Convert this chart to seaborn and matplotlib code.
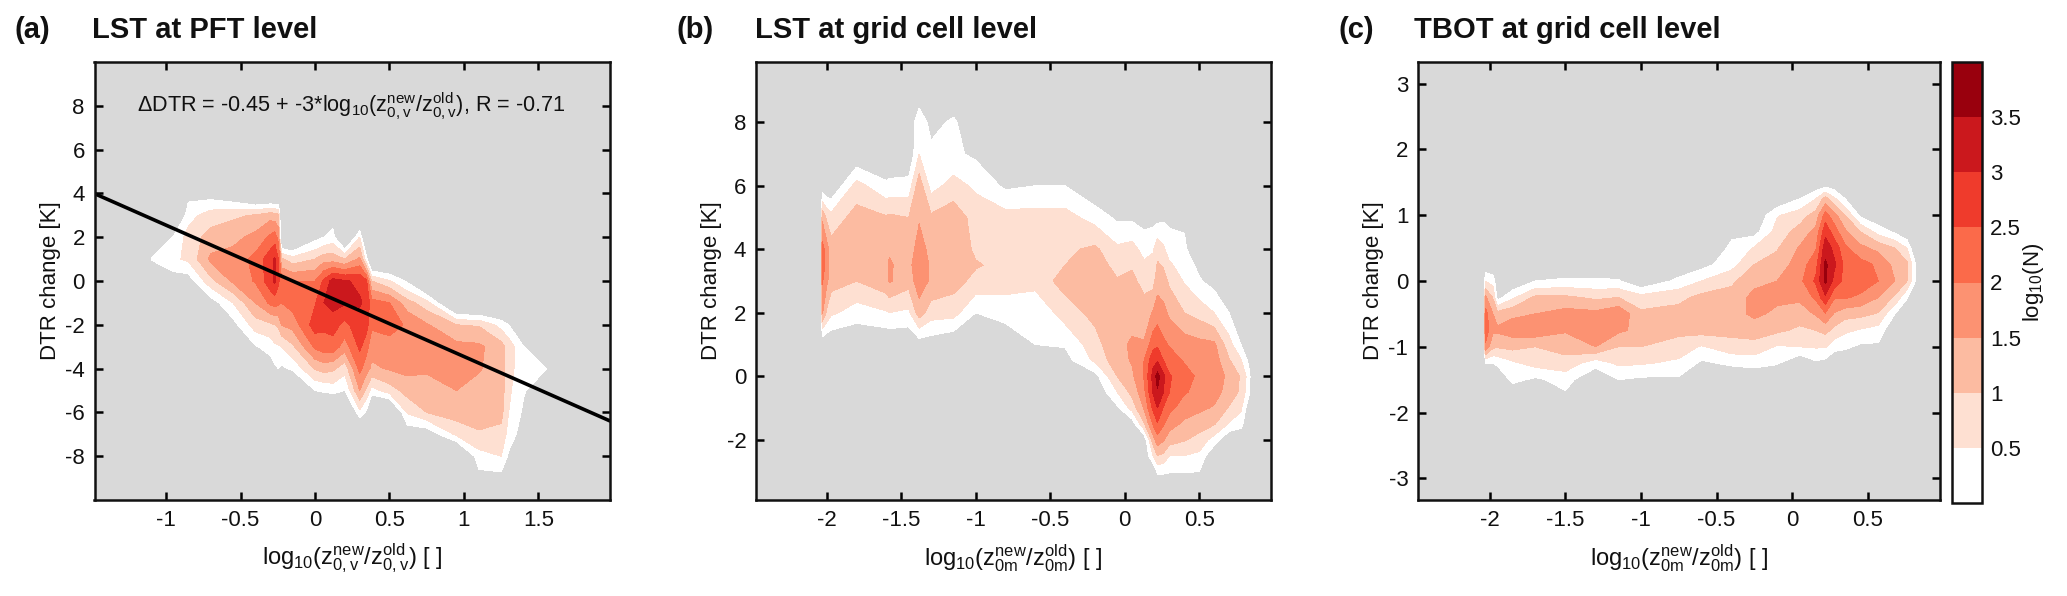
import numpy as np
import matplotlib
matplotlib.use("Agg")
import matplotlib.pyplot as plt
import seaborn as sns

# ── Data: log10(N), E = empty bin ────────────────────────────────────────────
E = -1.2

a_x = [-1.1, -0.95, -0.85, -0.7, -0.55, -0.4, -0.3, -0.27, -0.245, -0.225, -0.15, 0, 0.06, 0.12,
       0.2, 0.3, 0.345, 0.38, 0.5, 0.62, 0.75, 0.95, 1.1, 1.25, 1.3, 1.4, 1.55, 1.7]
a_y = [5, 4, 3, 2, 1, 0, -1, -2, -3, -4, -5, -6, -7, -8, -9, -10]
a_z = [
    [E, E, E, E, .05, E, E, E, E, E, E, E, E, E, E, E],
    [E, E, E, .05, .4, -.3, E, E, E, E, E, E, E, E, E, E],
    [E, -.2, .3, .7, .6, -.3, E, E, E, E, E, E, E, E, E, E],
    [E, -.3, .75, 1.2, 1.6, .85, -.3, E, E, E, E, E, E, E, E, E],
    [E, -.6, .9, 1.35, 1.7, 1.6, .5, -.2, E, E, E, E, E, E, E, E],
    [E, E, 1.05, 1.65, 2.15, 2.05, 1.5, .75, -.05, E, E, E, E, E, E, E],
    [E, E, 1.3, 2.1, 2.8, 2.8, 2.1, .9, .2, -.3, E, E, E, E, E, E],
    [E, E, 1.2, 2.25, 3.05, 3.1, 2.2, 1.0, .4, -.1, E, E, E, E, E, E],
    [E, E, 1.1, 1.8, 2.5, 2.6, 2.1, 1.1, .45, 0, E, E, E, E, E, E],
    [E, E, E, E, 1.1, 2.1, 2.0, 1.5, .5, -.1, E, E, E, E, E, E],
    [E, E, E, E, .7, 2.0, 2.2, 1.7, .9, .1, E, E, E, E, E, E],
    [E, E, E, -.2, 1.0, 2.0, 2.45, 2.75, 2.1, 1.05, 0, E, E, E, E, E],
    [E, E, E, 0, 1.3, 2.6, 3.0, 2.6, 2.3, 1.2, .1, E, E, E, E, E],
    [E, E, -.3, .2, 1.25, 3.2, 3.2, 2.7, 2.3, 1.1, .2, E, E, E, E, E],
    [E, E, E, E, 1.0, 3.05, 3.05, 2.35, 1.75, .7, 0, E, E, E, E, E],
    [E, E, E, .5, 1.6, 2.9, 3.05, 2.8, 2.6, 2.15, 1.5, .35, E, E, E, E],
    [E, E, E, E, .2, 2.6, 2.9, 2.7, 2.2, 1.7, .9, -.1, E, E, E, E],
    [E, E, E, E, E, 1.0, 2.2, 2.1, 1.7, 1.4, .3, E, E, E, E, E],
    [E, E, E, E, E, .55, 2.0, 2.15, 1.85, 1.55, .75, E, E, E, E, E],
    [E, E, E, E, E, -.1, 1.2, 1.95, 1.8, 1.65, 1.2, .55, -.4, E, E, E],
    [E, E, E, E, E, E, .7, 1.55, 1.7, 1.6, 1.2, 1.0, -.4, E, E, E],
    [E, E, E, E, E, E, E, 1.0, 1.65, 1.6, 1.5, 1.25, .6, E, E, E],
    [E, E, E, E, E, E, E, .95, 1.6, 1.55, 1.3, 1.2, .95, .3, -.2, E],
    [E, E, E, E, E, E, E, .3, 1.2, 1.2, 1.25, 1.15, .85, .5, -.2, E],
    [E, E, E, E, E, E, E, 0, .8, .75, .6, .5, .3, -.1, E, E],
    [E, E, E, E, E, E, E, E, .02, .05, .05, -.1, -.3, E, E, E],
    [E, E, E, E, E, E, E, E, E, .02, -.4, E, E, E, E, E],
    [E, E, E, E, E, E, E, E, E, E, E, E, E, E, E, E],
]

E = -0.5

b_x = [-2.04, -2.03, -2.0, -1.97, -1.8, -1.6, -1.58, -1.45, -1.38, -1.3, -1.15, -1, -0.8, -0.6, -0.4,
       -0.2, -0.05, 0.05, 0.13, 0.19, 0.22, 0.26, 0.3, 0.4, 0.5, 0.6, 0.7, 0.78, 0.83, 0.86]
b_y = [9, 8, 7, 6, 5, 4, 3.5, 3, 2, 1, 0.5, 0, -0.5, -1, -1.5, -2, -2.5, -3, -3.5]
b_z = [
    [E, E, E, E, E, E, E, E, E, E, E, E, E, E, E, E, E, E, E],
    [E, E, E, -.4, 1.4, 2.2, 2.3, 2.05, 1.55, E, E, E, E, E, E, E, E, E, E],
    [E, E, E, -.5, .9, 1.7, 1.75, 1.6, .9, E, E, E, E, E, E, E, E, E, E],
    [E, E, E, E, .7, 1.2, 1.25, 1.2, .6, E, E, E, E, E, E, E, E, E, E],
    [E, E, E, .7, 1.2, 1.25, 1.25, 1.0, .25, E, E, E, E, E, E, E, E, E, E],
    [E, E, E, .1, 1.05, 1.4, 1.4, 1.35, .45, E, E, E, E, E, E, E, E, E, E],
    [E, E, E, .15, 1.1, 1.45, 1.55, 1.55, .5, E, E, E, E, E, E, E, E, E, E],
    [E, E, E, .2, 1.0, 1.25, 1.3, 1.2, .4, E, E, E, E, E, E, E, E, E, E],
    [E, .4, .5, 1.3, 1.45, 1.7, 1.95, 1.8, 1.25, -.3, E, E, E, E, E, E, E, E, E],
    [E, -.2, .15, .3, 1.1, 1.35, 1.4, 1.4, .75, -.3, E, E, E, E, E, E, E, E, E],
    [E, .1, .1, .7, 1.3, 1.4, 1.35, 1.2, .7, E, E, E, E, E, E, E, E, E, E],
    [E, E, -.1, .4, .8, .9, 1.05, .85, 0, E, E, E, E, E, E, E, E, E, E],
    [E, E, E, -.1, .7, .9, .85, .8, .1, -.2, E, E, E, E, E, E, E, E, E],
    [E, E, E, 0, .7, .9, 1.0, .7, .05, 0, E, E, E, E, E, E, E, E, E],
    [E, E, E, 0, .7, .9, 1.0, 1.2, .75, .05, -.2, E, E, E, E, E, E, E, E],
    [E, E, E, E, .3, 1.1, 1.3, 1.35, 1.15, .8, .6, -.2, E, E, E, E, E, E, E],
    [E, E, E, E, -.1, .6, .8, 1.05, 1.3, 1.4, 1.3, 1.0, .5, -.1, E, E, E, E, E],
    [E, E, E, E, -.1, .7, .95, 1.1, 1.35, 1.55, 1.55, 1.4, 1.15, .7, -.3, E, E, E, E],
    [E, E, E, E, -.2, .3, .6, .85, 1.2, 1.55, 2.0, 2.05, 1.85, 1.55, .95, -.4, E, E, E],
    [E, E, E, E, -.2, .45, .65, .8, 1.55, 2.3, 2.85, 3.15, 3.05, 2.6, 2.05, 1.25, .5, E, E],
    [E, E, E, E, -.2, .85, 1.05, 1.3, 1.75, 2.4, 2.95, 3.7, 3.45, 3.0, 2.45, 1.8, 1.0, .1, E],
    [E, E, E, E, -.1, .6, .95, 1.2, 1.65, 2.1, 2.5, 3.1, 3.0, 2.45, 2.05, 1.55, .9, .1, E],
    [E, E, E, E, -.1, .2, .6, .9, 1.4, 1.95, 2.25, 2.55, 2.5, 2.15, 1.7, 1.25, .5, .05, E],
    [E, E, E, E, -.1, .1, .2, .45, 1.0, 1.75, 1.95, 2.2, 2.05, 1.75, 1.4, 1.05, .5, .05, E],
    [E, E, E, E, E, E, -.1, .05, .8, 1.65, 1.8, 1.9, 1.85, 1.6, 1.25, .8, .4, 0, E],
    [E, E, E, E, E, E, E, -.2, .5, 1.6, 1.75, 1.85, 1.7, 1.45, 1.05, .3, E, E, E],
    [E, E, E, E, E, E, E, E, 0, .7, 1.05, 1.35, 1.3, .95, .45, E, E, E, E],
    [E, E, E, E, E, E, E, E, E, 0, .55, .95, .9, .6, .2, E, E, E, E],
    [E, E, E, E, E, E, E, E, E, E, -.1, .3, .2, -.3, E, E, E, E, E],
    [E, E, E, E, E, E, E, E, E, E, E, E, E, E, E, E, E, E, E],
]

c_x = [-2.04, -2.03, -1.98, -1.95, -1.85, -1.7, -1.5, -1.3, -1.15, -1, -0.75, -0.6, -0.4, -0.25, -0.1,
       0.05, 0.157, 0.22, 0.278, 0.35, 0.45, 0.57, 0.68, 0.76, 0.81, 0.83]
c_y = [1.5, 1.25, 1, 0.75, 0.5, 0.25, 0, -0.25, -0.5, -0.75, -1, -1.25, -1.5, -1.75, -2]
c_z = [
    [E, E, E, E, E, E, E, E, E, E, E, E, E, E, E],
    [E, E, E, E, E, E, .5, 1.6, 2.2, 2.3, 1.9, 0, E, E, E],
    [E, E, E, E, E, E, .3, .95, 1.5, 1.6, 1.1, 0, E, E, E],
    [E, E, E, E, E, E, E, -.2, 1.2, 1.6, 1.05, .1, E, E, E],
    [E, E, E, E, E, E, E, .4, 1.4, 1.75, 1.15, .4, .15, E, E],
    [E, E, E, E, E, E, 0, 1.1, 1.5, 1.85, 1.0, .7, -.1, E, E],
    [E, E, E, E, E, E, .1, 1.1, 1.7, 1.55, 1.2, .8, .2, -.1, E],
    [E, E, E, E, E, E, .1, .9, 1.65, 1.7, 1.5, .2, E, E, E],
    [E, E, E, E, E, E, .05, 1.0, 1.9, 1.6, 1.0, .6, 0, E, E],
    [E, E, E, E, E, E, E, .7, 1.1, 1.35, 1.0, .55, -.1, E, E],
    [E, E, E, E, E, E, .15, .85, 1.2, 1.15, .75, .4, -.1, E, E],
    [E, E, E, E, E, -.2, .5, 1.15, 1.3, 1.2, .45, -.1, E, E, E],
    [E, E, E, -.1, .1, .3, .9, 1.2, 1.3, 1.15, .8, .1, E, E, E],
    [E, E, E, -.2, .55, 1.0, 1.35, 1.65, 1.6, 1.25, .8, .2, E, E, E],
    [E, E, .45, .7, .95, 1.2, 1.5, 1.6, 1.4, 1.1, .45, .05, E, E, E],
    [E, 0, .75, 1.2, 1.55, 1.75, 1.85, 1.6, 1.25, .9, .5, E, E, E, E],
    [E, .5, 1.2, 1.65, 1.95, 2.3, 2.6, 2.1, 1.55, 1.0, .55, -.1, E, E, E],
    [E, 1.2, 2.2, 2.85, 3.3, 3.6, 3.6, 2.9, 1.95, 1.15, .55, -.2, E, E, E],
    [E, .6, 1.7, 2.25, 2.85, 3.1, 2.85, 2.05, 1.45, .85, .2, E, E, E, E],
    [E, 0, 1.0, 1.6, 2.1, 2.35, 2.3, 2.05, 1.2, .6, .1, E, E, E, E],
    [E, E, -.1, 1.0, 1.65, 2.2, 2.3, 1.9, 1.15, .45, -.1, E, E, E, E],
    [E, E, E, .3, 1.35, 1.9, 2.0, 1.5, .95, .3, -.1, E, E, E, E],
    [E, E, E, -.1, 1.0, 1.35, 1.5, .9, 0, E, E, E, E, E, E],
    [E, E, E, E, .5, 1.1, 1.0, .05, E, E, E, E, E, E, E],
    [E, E, E, E, E, .2, .1, E, E, E, E, E, E, E, E],
    [E, E, E, E, E, E, E, E, E, E, E, E, E, E, E],
]

# fit line as printed in panel (a)
fit_intercept = -0.45
fit_slope = -3
fit_x = [-1.48, 1.98]

levels = [0, 0.5, 1, 1.5, 2, 2.5, 3, 3.5, 4]
band_colors = ["#ffffff", "#fee0d2", "#fcbba1", "#fc9272", "#fb6a4a", "#ef3b2c", "#cb181d", "#99000d"]
cbar_ticks = [0.5, 1, 1.5, 2, 2.5, 3, 3.5]
cbar_labels = ["0.5", "1", "1.5", "2", "2.5", "3", "3.5"]

a_xticks = [-1, -0.5, 0, 0.5, 1, 1.5]
b_xticks = [-2, -1.5, -1, -0.5, 0, 0.5]
a_yticks = [-8, -6, -4, -2, 0, 2, 4, 6, 8]
b_yticks = [-2, 0, 2, 4, 6, 8]
c_yticks = [-3, -2, -1, 0, 1, 2, 3]

# ── Style ────────────────────────────────────────────────────────────────────
sns.set_theme(style="ticks")
plt.rcParams["font.family"] = ["Liberation Sans", "DejaVu Sans"]
plt.rcParams["mathtext.default"] = "regular"
plt.rcParams["axes.linewidth"] = 1.8
plt.rcParams["xtick.direction"] = "in"
plt.rcParams["ytick.direction"] = "in"

W, H = 2067, 596
TEXT = "#111111"
fig = plt.figure(figsize=(W / 100, H / 100), dpi=100)
palette = sns.color_palette(band_colors)


def add_axes_px(left, right, top=62, bottom=500):
    return fig.add_axes([left / W, 1 - bottom / H, (right - left) / W, (bottom - top) / H])


def panel(ax, x, y, z, xlim, ylim, xticks, yticks):
    cs = ax.contourf(x, y, np.array(z).T, levels=levels, colors=palette)
    ax.set_facecolor("#d9d9d9")
    ax.set_xlim(*xlim)
    ax.set_ylim(*ylim)
    ax.set_xticks(xticks)
    ax.set_xticklabels([f"{t:g}" for t in xticks])
    ax.set_yticks(yticks)
    ax.set_yticklabels([f"{t:g}" for t in yticks])
    ax.tick_params(top=True, right=True, labelsize=16, length=6, width=1.8, color="black", pad=7,
                   labelcolor=TEXT)
    for s in ax.spines.values():
        s.set_color(TEXT)
    return cs


def axis_labels(ax, xlabel):
    ax.set_xlabel(xlabel, fontsize=17, color=TEXT, va="center")
    ax.set_ylabel("DTR change [K]", fontsize=16, color=TEXT, va="center")
    ax.xaxis.set_label_coords(0.5, -0.132)
    ax.yaxis.set_label_coords(-0.086, 0.5)


ax_a = add_axes_px(94.5, 610)
ax_b = add_axes_px(756, 1270.7)
ax_c = add_axes_px(1418, 1939.6)
cax = add_axes_px(1952, 1981.7, bottom=503)

label_v = r"$log_{10}(z_{0,v}^{new}/z_{0,v}^{old})$ [ ]"
label_m = r"$log_{10}(z_{0m}^{new}/z_{0m}^{old})$ [ ]"

panel(ax_a, a_x, a_y, a_z, (-1.48, 1.98), (-10, 10), a_xticks, a_yticks)
panel(ax_b, b_x, b_y, b_z, (-2.475, 0.98), (-3.9, 9.9), b_xticks, b_yticks)
cs = panel(ax_c, c_x, c_y, c_z, (-2.476, 0.976), (-3.33, 3.33), b_xticks, c_yticks)

fit_y = [fit_intercept + fit_slope * v for v in fit_x]
sns.lineplot(x=fit_x, y=fit_y, ax=ax_a, color="black", linewidth=2.6)
ax_a.text(-1.195, 8, r"$\Delta$DTR = -0.45 + -3*$log_{10}(z_{0,v}^{new}/z_{0,v}^{old})$, R = -0.71",
          fontsize=15.6, va="center", color=TEXT)

axis_labels(ax_a, label_v)
axis_labels(ax_b, label_m)
axis_labels(ax_c, label_m)

# ── Colorbar ─────────────────────────────────────────────────────────────────
cb = fig.colorbar(cs, cax=cax)
cb.set_ticks(cbar_ticks)
cb.set_ticklabels(cbar_labels)
cb.ax.set_ylim(0, 4)
cb.ax.tick_params(labelsize=16, direction="in", length=5, width=1.8, right=True, pad=6, labelcolor=TEXT)
cb.set_label(r"$log_{10}(N)$", fontsize=16, color=TEXT, va="center")
cb.ax.yaxis.set_label_coords(2.76, 0.5)
cb.outline.set_linewidth(1.8)
cb.outline.set_edgecolor(TEXT)

# ── Panel titles ─────────────────────────────────────────────────────────────
for x_tag, x_title, tag, title in [(15, 92, "(a)", "LST at PFT level"),
                                   (677, 755, "(b)", "LST at grid cell level"),
                                   (1339, 1414, "(c)", "TBOT at grid cell level")]:
    fig.text(x_tag / W, 1 - 38 / H, tag, fontsize=21, fontweight="bold", color=TEXT)
    fig.text(x_title / W, 1 - 38 / H, title, fontsize=21, fontweight="bold", color=TEXT)

plt.savefig("out.png", dpi=100)
plt.close()
